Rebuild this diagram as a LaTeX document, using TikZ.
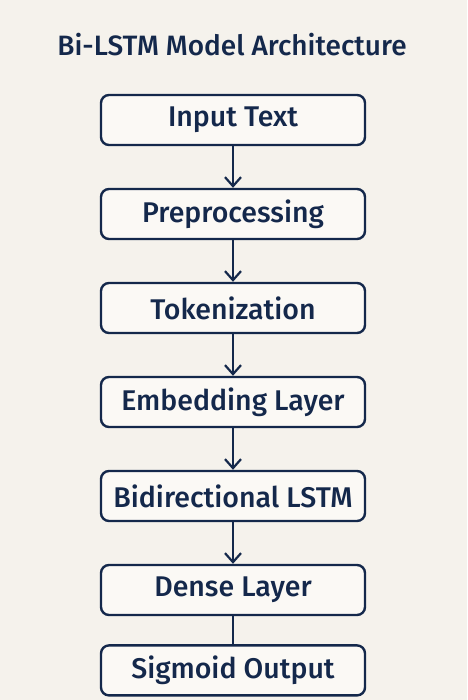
\documentclass[tikz,border=0pt]{standalone}
\usepackage{fontspec}
\setmainfont{Fira Sans Medium}
\usetikzlibrary{positioning,arrows.meta}
\definecolor{navy}{HTML}{14284B}
\definecolor{paper}{HTML}{F5F2EC}
\definecolor{boxfill}{HTML}{FBF9F5}
\begin{document}
\begin{tikzpicture}[x=1pt,y=1pt,
      block/.style={draw=navy,line width=2.4pt,rounded corners=8pt,fill=boxfill,
                    minimum width=264pt,minimum height=50pt,text=navy,font=\fontsize{28.5}{32}\selectfont},
      flow/.style={draw=navy,line width=2.2pt,-{Straight Barb[length=9pt,width=16pt,line width=2.2pt]}},
      node distance=41.6pt]
         \fill[paper] (0,0) rectangle (467,-700);
         \useasboundingbox (0,0) rectangle (467,-700);
         \node[text=navy,font=\fontsize{28}{32}\selectfont,anchor=base] (title) at (232,-56) {Bi-LSTM Model Architecture};
         \node[block] (input) at (233,-120) {Input Text};
         \node[block,below=of input] (prep) {Preprocessing};
         \node[block,below=of prep] (token) {Tokenization};
         \node[block,below=of token] (embed) {Embedding Layer};
         \node[block,below=of embed] (bilstm) {Bidirectional LSTM};
         \node[block,below=of bilstm] (dense) {Dense Layer};
         \node[block,below=28pt of dense] (sigmoid) {Sigmoid Output};
         \foreach \a/\b in {input/prep,prep/token,token/embed,embed/bilstm,bilstm/dense}
            \draw[flow] (\a) -- (\b);
         \draw[draw=navy,line width=2.2pt] (dense) -- (sigmoid);
      \end{tikzpicture}
\end{document}
